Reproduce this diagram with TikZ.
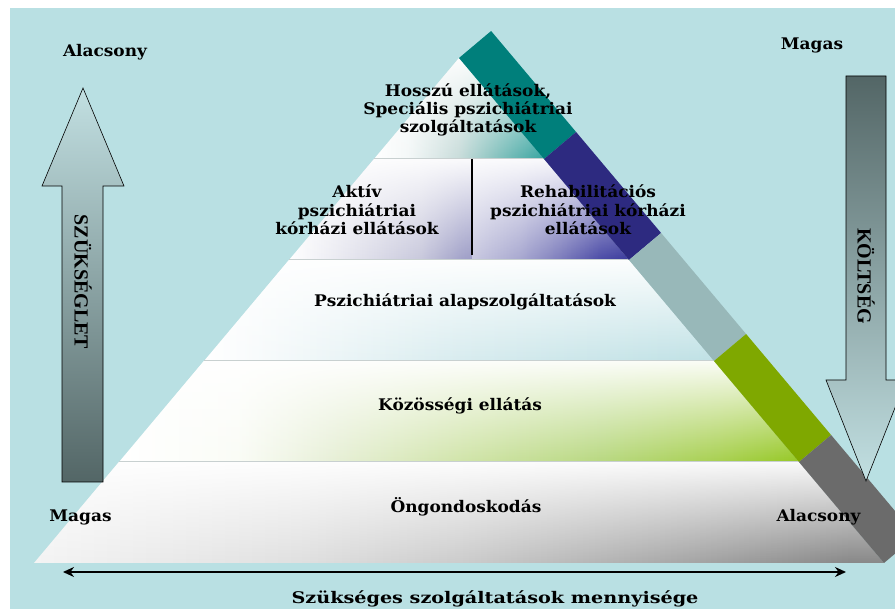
\documentclass[tikz,border=0pt]{standalone}
\usepackage{fontspec}
\setmainfont{DejaVu Serif}
\newfontfamily\lblfont{DejaVu Serif}[FakeStretch=1.06]
\newfontfamily\qfont{DejaVu Serif}[FakeStretch=1.2]
\newfontfamily\timesf{Liberation Serif}
\usetikzlibrary{arrows.meta,calc,fadings}
\definecolor{bg}{HTML}{B9E0E3}
\definecolor{stTeal}{HTML}{007F7B}
\definecolor{stNavy}{HTML}{2D2A80}
\definecolor{stGrey}{HTML}{98B8B9}
\definecolor{stGreen}{HTML}{7FA800}
\definecolor{stDark}{HTML}{6B6B6B}
\definecolor{arrDark}{HTML}{536666}
\definecolor{arrLight}{HTML}{C2E0E2}
\definecolor{sepc}{HTML}{C8D0D0}
% band colours
\definecolor{tA}{HTML}{3AA6A2}\definecolor{tB}{HTML}{80C0BC}\definecolor{tC}{HTML}{C8DCDA}\definecolor{tD}{HTML}{F4F8F8}
\definecolor{nlA}{HTML}{9C9CC6}\definecolor{nlB}{HTML}{A4A4CA}\definecolor{nlC}{HTML}{C8C8DC}\definecolor{nlD}{HTML}{EEEEF4}
\definecolor{nrA}{HTML}{3A3A9C}\definecolor{nrB}{HTML}{4A4AA6}\definecolor{nrC}{HTML}{7C7CBC}\definecolor{nrD}{HTML}{A8A8D0}\definecolor{nrE}{HTML}{C8C8E0}
\definecolor{bA}{HTML}{BFE1E5}\definecolor{bB}{HTML}{D8ECEF}\definecolor{bC}{HTML}{F8FBFC}
\definecolor{gA}{HTML}{96C824}\definecolor{gB}{HTML}{A8D050}\definecolor{gC}{HTML}{B8D880}\definecolor{gD}{HTML}{D0E4A8}\definecolor{gE}{HTML}{E8F0D8}\definecolor{gF}{HTML}{FAFCF6}
\definecolor{yA}{HTML}{888888}\definecolor{yB}{HTML}{A4A4A4}\definecolor{yC}{HTML}{B4B4B4}\definecolor{yD}{HTML}{CCCCCC}\definecolor{yE}{HTML}{E0E0E0}\definecolor{yF}{HTML}{F4F4F4}
\pgfdeclarehorizontalshading{hTeal}{100bp}{color(0bp)=(white); color(25bp)=(white); color(35bp)=(tD); color(50bp)=(tC); color(62bp)=(tB); color(74bp)=(tA); color(100bp)=(tA)}
\pgfdeclarehorizontalshading{hNavyL}{100bp}{color(0bp)=(white); color(25bp)=(white); color(36bp)=(nlD); color(61bp)=(nlC); color(71.5bp)=(nlB); color(75bp)=(nlA); color(100bp)=(nlA)}
\pgfdeclarehorizontalshading{hNavyR}{100bp}{color(0bp)=(nrE); color(25bp)=(nrE); color(40bp)=(nrD); color(53bp)=(nrC); color(66bp)=(nrB); color(75bp)=(nrA); color(100bp)=(nrA)}
\pgfdeclarehorizontalshading{hBlue}{100bp}{color(0bp)=(white); color(25bp)=(white); color(30bp)=(bC); color(50bp)=(bB); color(75bp)=(bA); color(100bp)=(bA)}
\pgfdeclarehorizontalshading{hGreen}{100bp}{color(0bp)=(white); color(25bp)=(white); color(33.7bp)=(gF); color(40.5bp)=(gE); color(50.5bp)=(gD); color(60.5bp)=(gC); color(69bp)=(gB); color(75bp)=(gA); color(100bp)=(gA)}
\pgfdeclarehorizontalshading{hGrey}{100bp}{color(0bp)=(yF); color(25bp)=(yF); color(40.5bp)=(yE); color(50bp)=(yD); color(58.5bp)=(yC); color(64bp)=(yB); color(73bp)=(yA); color(100bp)=(yA)}
\tikzfading[name=fadeTop, top color=transparent!5, middle color=transparent!85, bottom color=transparent!100]
\begin{document}
\begin{tikzpicture}[x=1pt,y=-1pt,
  lbl/.style={font=\lblfont\bfseries\fontsize{16}{19}\selectfont, inner sep=0pt, anchor=base, text=black},
  vlbl/.style={font=\timesf\bfseries\fontsize{20}{24}\selectfont, inner sep=0pt, rotate=-90, text=black},
  gloss/.style={fill=white, path fading=fadeTop},
  seg/.style={draw=none},
  sepline/.style={draw=sepc, line width=1pt},
  blockarrow/.style={draw=black, line width=0.6pt},
]
\useasboundingbox (0,0) rectangle (895,609);
\fill[white] (0,0) rectangle (895,609);
\fill[bg] (10,8) rectangle (895,609);

% pyramid corner coordinates
\coordinate (A)  at (459,58);
\coordinate (L1) at (374,159); \coordinate (R1) at (544,159);
\coordinate (L2) at (289,260); \coordinate (R2) at (629,260);
\coordinate (L3) at (204,361); \coordinate (R3) at (714,361);
\coordinate (L4) at (119,462); \coordinate (R4) at (799,462);
\coordinate (L5) at (34,563);  \coordinate (R5) at (884,563);
\coordinate (D1) at (472,159); \coordinate (D2) at (472,255);
\coordinate (D3) at (472,260);

\begin{scope}
\clip (0,0) rectangle (895,609);
% bands: colour grows to the right, white gloss fades in from the top
\shade[shading=hTeal]  (A) -- (R1) -- (L1) -- cycle;
\path[gloss]           (A) -- (R1) -- (L1) -- cycle;
\shade[shading=hNavyL] (L1) -- (D1) -- (D3) -- (L2) -- cycle;
\path[gloss]           (L1) -- (D1) -- (D3) -- (L2) -- cycle;
\shade[shading=hNavyR] (D1) -- (R1) -- (R2) -- (D3) -- cycle;
\path[gloss]           (D1) -- (R1) -- (R2) -- (D3) -- cycle;
\shade[shading=hBlue]  (L2) -- (R2) -- (R3) -- (L3) -- cycle;
\path[gloss]           (L2) -- (R2) -- (R3) -- (L3) -- cycle;
\shade[shading=hGreen] (L3) -- (R3) -- (R4) -- (L4) -- cycle;
\path[gloss]           (L3) -- (R3) -- (R4) -- (L4) -- cycle;
\shade[shading=hGrey]  (L4) -- (R4) -- (R5) -- (L5) -- cycle;
\path[gloss]           (L4) -- (R4) -- (R5) -- (L5) -- cycle;

% band separators
\draw[sepline] (L1) -- (R1);
\draw[sepline] (L2) -- (R2);
\draw[sepline] (L3) -- (R3);
\draw[sepline] (L4) -- (R4);
\draw[black, line width=2pt] (D1) -- (D2);

% coloured strip along right edge
\fill[seg, stTeal]  (A)  -- (R1) -- ($(R1)+(32.1,-27)$) -- ($(A)+(32.1,-27)$) -- cycle;
\fill[seg, stNavy]  (R1) -- (R2) -- ($(R2)+(32.1,-27)$) -- ($(R1)+(32.1,-27)$) -- cycle;
\fill[seg, stGrey]  (R2) -- (R3) -- ($(R3)+(32.1,-27)$) -- ($(R2)+(32.1,-27)$) -- cycle;
\fill[seg, stGreen] (R3) -- (R4) -- ($(R4)+(32.1,-27)$) -- ($(R3)+(32.1,-27)$) -- cycle;
\fill[seg, stDark]  (R4) -- (R5) -- ($(R5)+(32.1,-27)$) -- ($(R4)+(32.1,-27)$) -- cycle;

% left block arrow (need)
\shade[blockarrow, top color=arrLight, bottom color=arrDark]
  (62,482) -- (62,186) -- (42,186) -- (83,88) -- (124,186) -- (103,186) -- (103,482) -- cycle;
% right block arrow (cost)
\shade[blockarrow, top color=arrDark, bottom color=arrLight]
  (846,76) -- (886,76) -- (886,380) -- (906,380) -- (866,481) -- (826,380) -- (846,380) -- cycle;
\end{scope}

\node[vlbl] (need) at (83,282) {SZÜKSÉGLET};
\node[vlbl] (cost) at (866,276) {KÖLTSÉG};

% labels
\node[lbl] (lowTop)  at (105,56.5) {Alacsony};
\node[lbl] (highTop) at (812,50) {Magas};
\node[lbl] (highBot) at (80.5,521.5) {Magas};
\node[lbl] (lowBot)  at (818.5,521.5) {Alacsony};

\node[lbl] (t1a) at (468,96.5) {Hosszú ellátások,};
\node[lbl] (t1b) at (468,115) {Speciális pszichiátriai};
\node[lbl] (t1c) at (468,133) {szolgáltatások};

\node[lbl] (t2a) at (357,197.5) {Aktív};
\node[lbl] (t2b) at (357,216.5) {pszichiátriai};
\node[lbl] (t2c) at (357,235) {kórházi ellátások};

\node[lbl] (t3a) at (588,198) {Rehabilitációs};
\node[lbl] (t3b) at (588,216.5) {pszichiátriai kórházi};
\node[lbl] (t3c) at (588,235) {ellátások};

\node[lbl] (t4) at (465,307) {Pszichiátriai alapszolgáltatások};
\node[lbl] (t5) at (460,411) {Közösségi ellátás};
\node[lbl] (t6) at (466,513) {Öngondoskodás};

% quantity axis
\coordinate (qL) at (63,572);
\coordinate (qR) at (846,572);
\draw[line width=2.8pt, {Stealth[length=11pt,width=10pt]}-{Stealth[length=11pt,width=10pt]}] (qL) -- (qR);
\node[lbl, font=\qfont\bfseries\fontsize{16}{19}\selectfont] (qlabel) at (495,603) {Szükséges szolgáltatások mennyisége};
\end{tikzpicture}
\end{document}
